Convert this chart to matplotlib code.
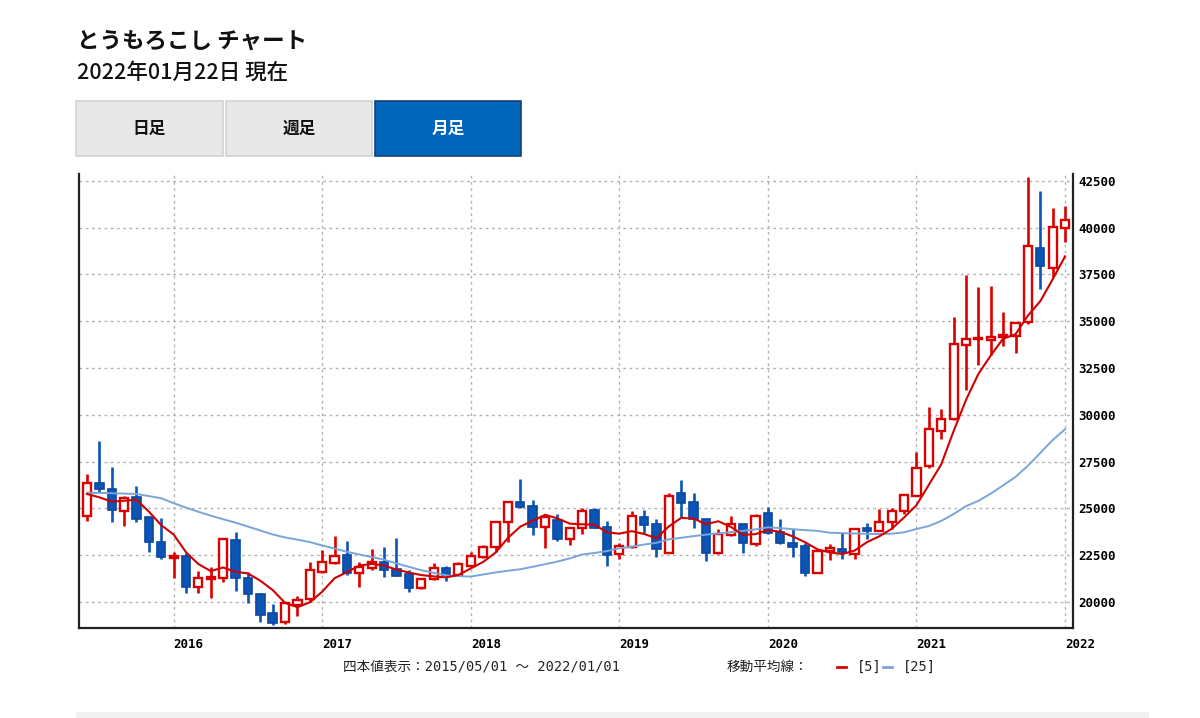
import matplotlib
matplotlib.use("Agg")
import matplotlib.pyplot as plt
from matplotlib.patches import Rectangle
from matplotlib.lines import Line2D
import numpy as np
import pandas as pd

# monthly candles 2015/06 - 2022/01
months = pd.period_range("2015-06", "2022-01", freq="M")

opens = [24594, 26341, 26036, 24877, 25625, 24525, 23221, 22350, 22457, 20817,
         21255, 21282, 23312, 21298, 20427, 19428, 18916, 19840, 20144, 21619,
         22099, 22511, 21533, 21800, 22153, 21763, 21496, 20732, 21213, 21800,
         21442, 21923, 22388, 22954, 24290, 25358, 25128, 24023, 24380, 23349,
         23937, 24915, 23990, 22564, 22954, 24525, 24167, 22634, 25807, 25358,
         24434, 22602, 23579, 24151, 23098, 24738, 23756, 23136, 22992, 21565,
         22724, 22831, 22548, 23937, 23793, 24290, 24877, 25663, 27265, 29151,
         29760, 33729, 34033, 33996, 34172, 34210, 34974, 38895, 37858, 39963]
highs = [26838, 28601, 27196, 25663, 26213, 24567, 24471, 22655, 22634, 21672,
         21886, 23366, 23723, 21587, 20465, 19893, 20016, 20321, 22153, 22778,
         23526, 23259, 22153, 22815, 22954, 23403, 21709, 21230, 22099, 21939,
         22153, 22655, 23045, 24300, 25395, 26555, 25449, 24647, 24701, 23950,
         25005, 25005, 24343, 23136, 24877, 24915, 24418, 25807, 26517, 25807,
         24450, 23884, 24594, 24160, 24701, 25059, 24418, 23884, 23136, 22730,
         23098, 23670, 23937, 24236, 24968, 25037, 25740, 28029, 30401, 30294,
         35241, 37468, 36811, 36897, 35508, 34930, 42720, 41956, 41063, 41170]
lows = [24343, 25807, 24290, 24060, 24258, 22687, 22297, 21298, 20465, 20465,
        20230, 21052, 20604, 19963, 18948, 18771, 18825, 19252, 20016, 21549,
        22030, 21442, 20817, 21709, 21352, 21389, 20550, 20720, 21175, 21122,
        21389, 21886, 22340, 22687, 23221, 25048, 23579, 22869, 23275, 23045,
        23633, 23930, 21939, 22281, 22900, 23670, 22420, 22600, 24557, 23937,
        22206, 22590, 23526, 22602, 22992, 23633, 23125, 22420, 21389, 21560,
        22243, 22281, 22281, 23349, 23780, 23884, 24701, 25650, 27142, 28692,
        29749, 31325, 32660, 33195, 33692, 33318, 34851, 36705, 37345, 39247]
closes = [26373, 26020, 24915, 25556, 24434, 23221, 22388, 22431, 20817, 21266,
          21352, 23349, 21266, 20411, 19306, 18862, 19931, 20107, 21709, 22153,
          22457, 21533, 21886, 22153, 21709, 21389, 20732, 21213, 21800, 21442,
          22030, 22473, 22954, 24290, 25358, 25059, 24023, 24557, 23349, 23937,
          24877, 23937, 22511, 22992, 24610, 24113, 22815, 25663, 25273, 24418,
          22602, 23617, 24167, 23136, 24610, 23702, 23136, 22954, 21565, 22724,
          22869, 22687, 23884, 23809, 24290, 24877, 25716, 27174, 29226, 29760,
          33766, 34033, 34119, 34172, 34263, 34920, 39018, 37965, 40016, 40406]

# moving average lines as drawn on the chart
ma5 = [25770, 25593, 25358, 25411, 25460, 24829, 24103, 23606, 22658, 22025,
       21651, 21843, 21610, 21529, 21137, 20639, 19955, 19723, 19983, 20552,
       21271, 21592, 21948, 22036, 21948, 21734, 21574, 21439, 21369, 21315,
       21443, 21792, 22140, 22638, 23421, 24027, 24337, 24657, 24469, 24185,
       24149, 24131, 23722, 23651, 23785, 23633, 23408, 24039, 24495, 24456,
       24154, 24315, 24015, 23588, 23626, 23846, 23750, 23508, 23193, 22816,
       22650, 22560, 22746, 23195, 23508, 23909, 24515, 25173, 26257, 27351,
       29128, 30792, 32181, 33170, 34071, 34301, 35298, 36068, 37236, 38465]
ma25 = [25839, 25830, 25810, 25790, 25770, 25660, 25540, 25280, 25040, 24820,
        24610, 24420, 24240, 24030, 23820, 23610, 23450, 23330, 23200, 23020,
        22860, 22680, 22540, 22400, 22260, 22060, 21880, 21700, 21560, 21430,
        21380, 21360, 21470, 21580, 21670, 21750, 21880, 22020, 22160, 22330,
        22540, 22620, 22720, 22870, 22950, 23070, 23160, 23350, 23430, 23520,
        23600, 23660, 23730, 23800, 23880, 23990, 23950, 23890, 23840, 23800,
        23700, 23680, 23660, 23640, 23630, 23650, 23720, 23900, 24060, 24330,
        24700, 25120, 25400, 25790, 26230, 26680, 27280, 27960, 28650, 29226]

W, H = 1200, 718
RED = "#dd0000"
BLUE = "#0a55b5"
MA25_COL = "#79a5d9"
JP = ["Noto Sans CJK JP", "DejaVu Sans"]
MONO = ["DejaVu Sans Mono", "Noto Sans CJK JP"]


def fx(x):
    return x / W


def fy(y):
    return 1 - y / H


fig = plt.figure(figsize=(12, 7.18), dpi=100)
fig.patch.set_facecolor("white")

fig.text(fx(77), fy(41), "とうもろこし チャート", family=JP, fontsize=16.2,
         fontweight="bold", ha="left", va="center", color="#111111")
fig.text(fx(77), fy(73), "2022年01月22日 現在", family=JP, fontsize=15.5,
         fontweight="medium", ha="left", va="center", color="#111111")

# 日足 / 週足 / 月足 tabs
tabs = [(76, 223, "日足", False), (226, 372, "週足", False), (375, 521, "月足", True)]
for x0, x1, label, active in tabs:
    fc = "#0066bb" if active else "#e8e8e8"
    ec = "#1a3f73" if active else "#d2d2d2"
    fig.add_artist(Rectangle((fx(x0), fy(156)), (x1 - x0) / W, 55 / H,
                             transform=fig.transFigure, facecolor=fc,
                             edgecolor=ec, linewidth=1.2))
    fig.text(fx((x0 + x1) / 2), fy(129), label, family=JP, fontsize=12,
             fontweight="bold", color="white" if active else "#111111",
             ha="center", va="center")

ax = fig.add_axes([fx(79.3), fy(628.3), (1072.7 - 79.3) / W, (628.3 - 174) / H])

x = np.arange(len(months))
o = np.array(opens)
h = np.array(highs)
l = np.array(lows)
c = np.array(closes)
up = c >= o
bottoms = np.minimum(o, c)
heights = np.maximum(np.abs(c - o), 60)

ax.vlines(x[up], l[up], h[up], color=RED, linewidth=1.9, zorder=2)
ax.vlines(x[~up], l[~up], h[~up], color=BLUE, linewidth=1.9, zorder=2)
ax.bar(x[up], heights[up], bottom=bottoms[up], width=0.66, facecolor="white",
       edgecolor=RED, linewidth=1.7, zorder=3)
ax.bar(x[~up], heights[~up], bottom=bottoms[~up], width=0.68, facecolor=BLUE,
       edgecolor="#0a48a0", linewidth=1.2, zorder=3)

ax.plot(x, ma25, color=MA25_COL, linewidth=1.4, zorder=4)
ax.plot(x, ma5, color="#d00000", linewidth=1.5, zorder=5)

ax.set_xlim(-0.62, len(x) - 1 + 0.62)
ax.set_ylim(18595, 42864)

year_pos = [i for i, m in enumerate(months) if m.month == 1]
ax.set_xticks(year_pos)
ax.set_xticklabels([str(months[i].year) for i in year_pos])
ax.set_yticks(range(20000, 42501, 2500))
ax.yaxis.tick_right()
ax.tick_params(length=0, labelsize=9)
ax.tick_params(axis="x", pad=7)
ax.tick_params(axis="y", pad=4)
for lab in ax.get_xticklabels():
    lab.set_horizontalalignment("left")
for lab in ax.get_xticklabels() + ax.get_yticklabels():
    lab.set_family("DejaVu Sans Mono")
    lab.set_fontweight("bold")

ax.grid(True, color="#b4b4b4", linestyle=(0, (2, 2.5)), linewidth=1)
ax.set_axisbelow(True)
ax.spines["top"].set_visible(False)
for s in ["left", "bottom", "right"]:
    ax.spines[s].set_color("#222222")
    ax.spines[s].set_linewidth(1.6)

# footer
fig.text(fx(343), fy(667), "四本値表示：2015/05/01 〜 2022/01/01", family=MONO,
         fontsize=9.8, ha="left", va="center", color="#222222")
fig.text(fx(727), fy(667), "移動平均線：", family=JP, fontsize=9.8,
         ha="left", va="center", color="#222222")
fig.add_artist(Line2D([fx(837), fx(846)], [fy(667), fy(667)], color=RED,
                      linewidth=2, transform=fig.transFigure))
fig.text(fx(857), fy(667), "[5]", family=MONO, fontsize=9.8, ha="left",
         va="center", color="#222222")
fig.add_artist(Line2D([fx(883), fx(892)], [fy(667), fy(667)], color=MA25_COL,
                      linewidth=2, transform=fig.transFigure))
fig.text(fx(903), fy(667), "[25]", family=MONO, fontsize=9.8, ha="left",
         va="center", color="#222222")

fig.add_artist(Rectangle((fx(76), fy(718)), (1149 - 76) / W, 6 / H,
                         transform=fig.transFigure, facecolor="#f0f0f0",
                         edgecolor="none"))

fig.savefig("out.png", dpi=100)
